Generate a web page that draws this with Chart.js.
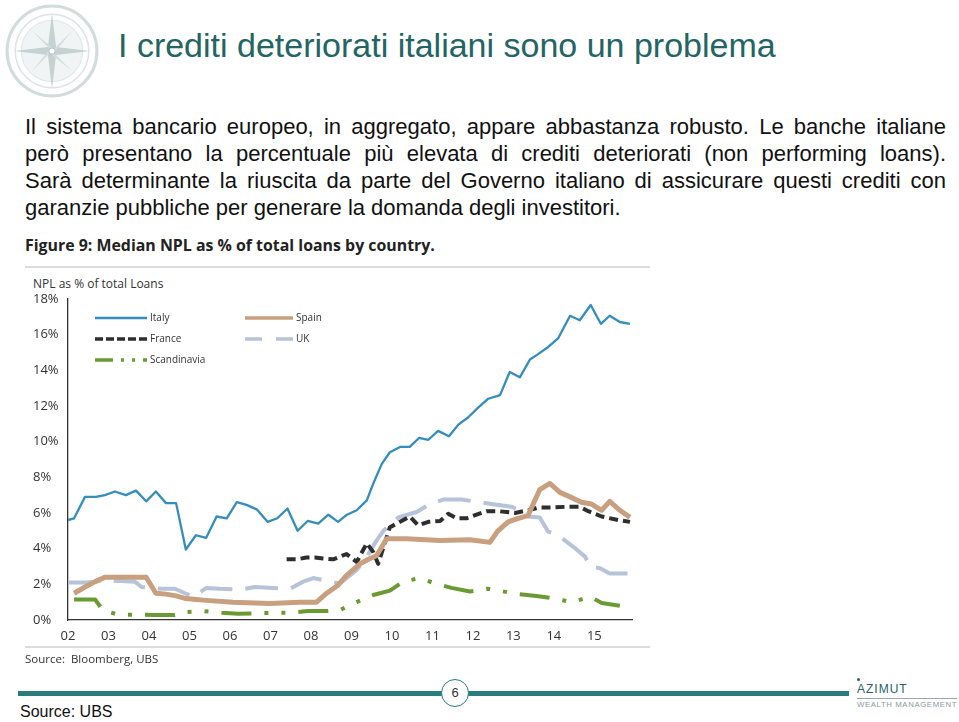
<!DOCTYPE html>
<html>
<head>
<meta charset="utf-8">
<script src="https://cdn.jsdelivr.net/npm/chart.js@4.4.1/dist/chart.umd.min.js"></script>
<style>
  html, body { margin: 0; padding: 0; background: #fff; }
  body { width: 959px; height: 722px; position: relative; overflow: hidden; font-family: "Liberation Sans", Arial, sans-serif; }
  .abs { position: absolute; }
  #titolo { left: 118px; top: 26px; font-size: 34px; color: #236464; white-space: nowrap; }
  .riga { left: 25px; width: 921px; font-size: 22px; line-height: 26px; color: #111; text-align: justify; text-align-last: justify; white-space: nowrap; }
  .ultima { text-align-last: left; }
  #figTitle { left: 25px; top: 234px; font-family: "Open Sans", sans-serif; font-weight: bold; font-size: 15.9px; color: #222; white-space: nowrap; }
  .hr { left: 25px; width: 625px; height: 2px; background: #dcdcdc; }
  #asseY { left: 33px; top: 275px; font-family: "Open Sans", sans-serif; font-size: 12px; color: #333; }
  #fonte { left: 25px; top: 651px; font-family: "Open Sans", sans-serif; font-size: 11.5px; color: #333; }
  #wrap { left: 28px; top: 288px; width: 622px; height: 360px; }
  .barra { height: 5px; background: #2a7b7b; top: 691px; }
  #pagina { left: 441px; top: 679px; width: 26px; height: 26px; border: 1.5px solid #2a7b7b; border-radius: 50%; background: #fff; text-align: center; line-height: 26px; font-size: 13px; color: #333; }
  #sourceUbs { left: 20px; top: 703px; font-size: 16px; color: #111; }
  #azimut { left: 857px; top: 682px; font-size: 12px; color: #2a5f66; letter-spacing: 1px; }
  #wealth { left: 857px; top: 698px; font-size: 7.8px; color: #8a9a9a; letter-spacing: 0.6px; border-top: 1px solid #9aa; padding-top: 1px; white-space: nowrap; }
</style>
</head>
<body>
<svg class="abs" style="left:4px;top:3px" width="96" height="96" viewBox="0 0 94 94">
  <circle cx="47" cy="47" r="44" fill="none" stroke="#d3dcdc" stroke-width="3"/>
  <circle cx="47" cy="47" r="36" fill="none" stroke="#dde4e4" stroke-width="1.5"/>
  <circle cx="47" cy="47" r="30" fill="#f1f4f4" stroke="#e0e6e6" stroke-width="1"/>
  <polygon points="47,10 51,43 84,47 51,51 47,84 43,51 10,47 43,43" fill="#c6d2d2"/>
  <polygon points="27,27 49,45 67,27 49,49 67,67 45,49 27,67 45,45" fill="#d2dcdc"/>
  <circle cx="47" cy="47" r="3" fill="#fff" stroke="#b8c6c6"/>
</svg>
<div id="titolo" class="abs">I crediti deteriorati italiani sono un problema</div>
<div class="abs riga" style="top:114px">Il sistema bancario europeo, in aggregato, appare abbastanza robusto. Le banche italiane</div>
<div class="abs riga" style="top:141px">però presentano la percentuale più elevata di crediti deteriorati (non performing loans).</div>
<div class="abs riga" style="top:168px">Sarà determinante la riuscita da parte del Governo italiano di assicurare questi crediti con</div>
<div class="abs riga ultima" style="top:195px">garanzie pubbliche per generare la domanda degli investitori.</div>
<div id="figTitle" class="abs">Figure 9: Median NPL as % of total loans by country.</div>
<div class="abs hr" style="top:266px"></div>
<div id="asseY" class="abs">NPL as % of total Loans</div>
<div id="wrap" class="abs"><canvas id="grafico"></canvas></div>
<div class="abs hr" style="top:646px"></div>
<div id="fonte" class="abs">Source:&nbsp; Bloomberg, UBS</div>
<div class="abs barra" style="left:18px;width:424px"></div>
<div class="abs barra" style="left:468px;width:381px"></div>
<div id="pagina" class="abs">6</div>
<div id="sourceUbs" class="abs">Source: UBS</div>
<div class="abs" style="left:857px;top:678px;width:3px;height:3px;background:#2a5f66;border-radius:50%"></div>
<div id="azimut" class="abs">AZIMUT</div>
<div id="wealth" class="abs">WEALTH MANAGEMENT</div>

<script>
// anni (asse x) e valori NPL in %
const italyX = [2002.00, 2002.15, 2002.42, 2002.69, 2002.91, 2003.16, 2003.43, 2003.68, 2003.93, 2004.17, 2004.42, 2004.67, 2004.91, 2005.16, 2005.41, 2005.67, 2005.92, 2006.17, 2006.41, 2006.66, 2006.93, 2007.17, 2007.42, 2007.67, 2007.92, 2008.18, 2008.43, 2008.67, 2008.89, 2009.13, 2009.38, 2009.54, 2009.75, 2009.95, 2010.20, 2010.44, 2010.67, 2010.90, 2011.14, 2011.41, 2011.64, 2011.88, 2012.13, 2012.38, 2012.67, 2012.91, 2013.16, 2013.41, 2013.61, 2013.86, 2014.11, 2014.40, 2014.64, 2014.91, 2015.16, 2015.38, 2015.63, 2015.88];
const italyY = [5.6, 5.7, 6.9, 6.9, 7.0, 7.2, 7.0, 7.25, 6.65, 7.2, 6.55, 6.55, 3.95, 4.75, 4.6, 5.8, 5.7, 6.6, 6.45, 6.2, 5.5, 5.7, 6.25, 5.0, 5.55, 5.4, 5.9, 5.5, 5.9, 6.15, 6.7, 7.65, 8.75, 9.4, 9.7, 9.7, 10.2, 10.1, 10.6, 10.3, 10.95, 11.35, 11.9, 12.4, 12.6, 13.9, 13.6, 14.6, 14.9, 15.3, 15.8, 17.05, 16.8, 17.65, 16.6, 17.05, 16.7, 16.6];

const spainX = [2002.15, 2002.42, 2002.67, 2002.91, 2003.93, 2004.17, 2004.42, 2004.67, 2004.91, 2005.16, 2005.42, 2006.07, 2006.99, 2007.73, 2008.14, 2008.39, 2008.67, 2008.88, 2009.21, 2009.46, 2009.62, 2009.87, 2010.36, 2011.19, 2011.93, 2012.42, 2012.62, 2012.87, 2013.12, 2013.36, 2013.65, 2013.90, 2014.15, 2014.40, 2014.68, 2014.93, 2015.18, 2015.38, 2015.63, 2015.88];
const spainY = [1.5, 1.85, 2.15, 2.4, 2.4, 1.5, 1.45, 1.35, 1.2, 1.15, 1.1, 1.0, 0.93, 1.0, 1.0, 1.5, 1.95, 2.5, 3.15, 3.45, 3.6, 4.55, 4.55, 4.45, 4.5, 4.35, 5.0, 5.5, 5.7, 5.85, 7.3, 7.65, 7.15, 6.9, 6.6, 6.5, 6.15, 6.65, 6.15, 5.75];

const franceX = [2007.40, 2007.65, 2007.89, 2008.10, 2008.30, 2008.55, 2008.72, 2008.88, 2009.13, 2009.38, 2009.54, 2009.66, 2009.83, 2009.95, 2010.20, 2010.44, 2010.65, 2010.90, 2011.19, 2011.39, 2011.60, 2011.84, 2012.09, 2012.34, 2012.62, 2013.04, 2013.37, 2013.61, 2013.94, 2014.35, 2014.64, 2014.85, 2015.18, 2015.59, 2015.88];
const franceY = [3.4, 3.4, 3.5, 3.5, 3.45, 3.4, 3.55, 3.7, 3.25, 4.3, 3.8, 3.15, 4.35, 5.2, 5.5, 5.8, 5.3, 5.5, 5.55, 5.95, 5.7, 5.7, 5.9, 6.1, 6.1, 6.0, 6.15, 6.3, 6.3, 6.35, 6.35, 6.1, 5.8, 5.6, 5.5];

const ukX = [2002.00, 2002.42, 2002.67, 2002.91, 2003.16, 2003.65, 2003.82, 2004.07, 2004.31, 2004.64, 2004.89, 2005.09, 2005.42, 2005.75, 2006.25, 2006.62, 2007.07, 2007.48, 2007.81, 2008.06, 2008.39, 2008.59, 2008.72, 2009.13, 2009.38, 2009.62, 2009.79, 2010.16, 2010.61, 2010.94, 2011.27, 2011.72, 2012.17, 2012.46, 2012.95, 2013.20, 2013.37, 2013.65, 2013.86, 2014.11, 2014.48, 2014.77, 2014.89, 2015.14, 2015.38, 2015.83];
const ukY = [2.1, 2.1, 2.15, 2.25, 2.2, 2.15, 1.85, 1.8, 1.75, 1.75, 1.5, 1.3, 1.8, 1.75, 1.7, 1.85, 1.8, 1.75, 2.15, 2.35, 2.2, 2.1, 2.05, 2.8, 3.55, 4.45, 5.0, 5.75, 6.05, 6.5, 6.75, 6.75, 6.6, 6.5, 6.35, 6.1, 5.8, 5.75, 4.95, 4.75, 4.1, 3.55, 3.0, 2.9, 2.6, 2.6];

const scandX = [2002.15, 2002.67, 2002.86, 2003.24, 2003.68, 2004.11, 2004.64, 2004.91, 2005.34, 2005.80, 2006.20, 2007.03, 2007.48, 2007.93, 2008.35, 2008.72, 2008.88, 2009.13, 2009.54, 2009.95, 2010.28, 2010.69, 2011.06, 2011.47, 2011.93, 2012.38, 2013.12, 2013.57, 2014.02, 2014.43, 2014.91, 2015.18, 2015.63];
const scandY = [1.15, 1.15, 0.55, 0.3, 0.3, 0.28, 0.28, 0.45, 0.5, 0.4, 0.35, 0.4, 0.4, 0.5, 0.5, 0.55, 0.75, 1.0, 1.4, 1.65, 2.15, 2.35, 2.05, 1.8, 1.6, 1.75, 1.45, 1.35, 1.2, 1.0, 1.3, 0.95, 0.8];

const yTicks = [0, 2, 4, 6, 8, 10, 12, 14, 16, 18];

function punti(xs, ys) {
    return xs.map((x, i) => ({ x: x, y: ys[i] }));
}

// legenda disegnata dentro l'area del grafico, due colonne
const legendaInterna = {
    id: 'legendaInterna',
    afterDatasetsDraw(chart) {
        const ctx = chart.ctx;
        const pos = [[67, 30, 52], [217, 30, 48], [67, 51, 52], [217, 51, 48], [67, 72, 52]];
        chart.data.datasets.forEach((ds, i) => {
            const [x, y, len] = pos[i];
            ctx.save();
            ctx.strokeStyle = ds.borderColor;
            ctx.lineWidth = Math.min(ds.borderWidth, 3.5);
            ctx.setLineDash(ds.legendDash || []);
            ctx.beginPath();
            ctx.moveTo(x, y);
            ctx.lineTo(x + len, y);
            ctx.stroke();
            ctx.setLineDash([]);
            ctx.fillStyle = '#333';
            ctx.font = '10px "Open Sans", sans-serif';
            ctx.textBaseline = 'middle';
            ctx.fillText(ds.label, x + len + 3, y);
            ctx.restore();
        });
    }
};

const ctx = document.getElementById('grafico').getContext('2d');
new Chart(ctx, {
    type: 'line',
    data: {
        datasets: [{
            label: 'Italy',
            data: punti(italyX, italyY),
            borderColor: '#348dbd',
            borderWidth: 2.3
        }, {
            label: 'Spain',
            data: punti(spainX, spainY),
            borderColor: '#c9a07f',
            borderWidth: 5
        }, {
            label: 'France',
            data: punti(franceX, franceY),
            borderColor: '#2e2e2e',
            borderWidth: 4,
            borderDash: [9, 5],
            legendDash: [8, 3]
        }, {
            label: 'UK',
            data: punti(ukX, ukY),
            borderColor: '#b7c3d9',
            borderWidth: 4,
            borderDash: [33, 13],
            legendDash: [17, 14]
        }, {
            label: 'Scandinavia',
            data: punti(scandX, scandY),
            borderColor: '#6a9b33',
            borderWidth: 4,
            borderDash: [30, 13, 4, 13, 4, 13],
            legendDash: [18, 8, 3, 8, 3, 8]
        }]
    },
    options: {
        responsive: true,
        maintainAspectRatio: false,
        animation: false,
        elements: {
            point: { radius: 0 },
            line: { tension: 0, borderJoinStyle: 'round' }
        },
        layout: { padding: { left: 5, right: 18, top: 10, bottom: 0 } },
        plugins: {
            legend: { display: false },
            tooltip: { enabled: false }
        },
        scales: {
            x: {
                type: 'linear',
                min: 2002,
                max: 2015.93,
                grid: { display: false, drawTicks: false },
                border: { display: true, color: '#333', width: 1.3 },
                ticks: {
                    stepSize: 1,
                    includeBounds: false,
                    autoSkip: false,
                    maxRotation: 0,
                    padding: 8,
                    color: '#333',
                    font: { family: '"Open Sans", sans-serif', size: 13 },
                    callback: v => String(v).slice(2)
                },
                afterFit: s => { s.height = 28; }
            },
            y: {
                min: 0,
                max: 18,
                grid: { display: false, drawTicks: false },
                border: { display: true, color: '#333', width: 1.3 },
                afterBuildTicks: s => { s.ticks = yTicks.map(v => ({ value: v })); },
                ticks: {
                    crossAlign: 'far',
                    color: '#333',
                    font: { family: '"Open Sans", sans-serif', size: 13 },
                    callback: v => v + '%'
                },
                afterFit: s => { s.width = 35; }
            }
        }
    },
    plugins: [legendaInterna]
});
</script>
</body>
</html>
